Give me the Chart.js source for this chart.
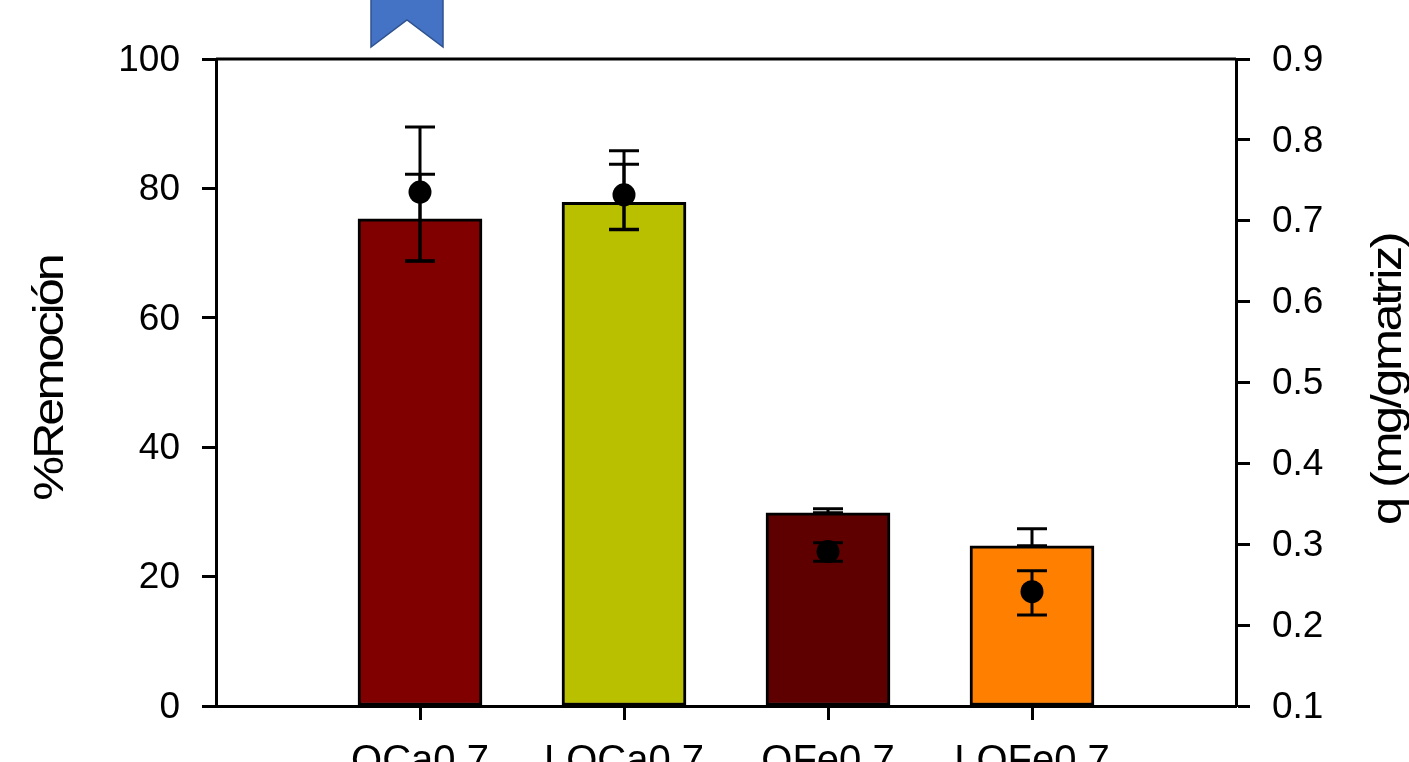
<!DOCTYPE html>
<html><head><meta charset="utf-8">
<style>html,body{margin:0;padding:0;background:#fff;overflow:hidden}canvas{display:block}</style>
<script src="https://cdn.jsdelivr.net/npm/chart.js@4/dist/chart.umd.min.js"></script>
</head><body><canvas id="c" width="1409" height="762"></canvas>
<script>
const categories = ['QCa0.7','LQCa0.7','QFe0.7','LQFe0.7'];
const barColors = ['#800000','#B8C000','#5F0000','#FF8000'];
const removal = [75.3,77.85,29.85,24.75];
const removalHigh = [82.2,85.8,30.5,27.4];
const removalLow = [68.8,73.7,29.85,24.75];
const q = [0.7355,0.732,0.291,0.2413];
const qHigh = [0.816,0.770,0.302,0.2673];
const qLow = [0.650,0.689,0.279,0.2125];
const leftTitle = '%Remoción';
const rightTitle = 'q (mg/gmatriz)';
const FONT = '"Liberation Sans", Arial, sans-serif';
const TICK = {family:FONT,size:37};
const LW = 3;

const deco = {
  id:'deco',
  beforeDraw(chart){
    const ctx = chart.ctx, a = chart.chartArea;
    // stretched, tightly spaced axis titles as in the reference; the right one reads bottom-to-top
    const patch = (id,dx,dy,sp,flip)=>{
      const s = chart.scales[id];
      if(s._patched) return;
      s._patched = true;
      const orig = s.drawTitle;
      s.drawTitle = function(){
        const lh = 42*1.2, cy = (a.top+a.bottom)/2;
        const tx = flip ? s.right - lh/2 : s.left + 26 + lh/2;
        ctx.save();
        ctx.translate(tx+dx,cy+dy);
        ctx.scale(1,1.2);
        if(flip) ctx.rotate(Math.PI);
        ctx.translate(-tx,-cy);
        ctx.letterSpacing = sp;
        orig.apply(this,arguments);
        ctx.restore();
      };
    };
    patch('y',0,-4,'-2.5px',false);
    patch('y2',6,-3,'-2px',true);
  },
  afterDatasetsDraw(chart){
    const ctx = chart.ctx, x = chart.scales.x, y = chart.scales.y, y2 = chart.scales.y2;
    ctx.save();
    ctx.strokeStyle = '#000'; ctx.lineWidth = LW; ctx.lineCap='butt';
    const whisk = (i,hi,lo,s)=>{
      const px = x.getPixelForValue(i+1), a = s.getPixelForValue(hi), b = s.getPixelForValue(lo);
      ctx.beginPath();
      ctx.moveTo(px,a); ctx.lineTo(px,b);
      ctx.moveTo(px-15,a); ctx.lineTo(px+15,a);
      ctx.moveTo(px-15,b); ctx.lineTo(px+15,b);
      ctx.stroke();
    };
    categories.forEach((c,i)=>{
      whisk(i,removalHigh[i],removalLow[i],y);
      whisk(i,qHigh[i],qLow[i],y2);
    });
    ctx.restore();
  },
  afterDraw(chart){
    const ctx = chart.ctx, a = chart.chartArea;
    ctx.save();
    ctx.strokeStyle='#000'; ctx.lineWidth=LW;
    ctx.beginPath(); ctx.moveTo(a.left,a.top); ctx.lineTo(a.right,a.top); ctx.stroke();
    // blue ribbon shape clipped by the top of the picture
    ctx.beginPath();
    ctx.moveTo(371,-2); ctx.lineTo(443,-2); ctx.lineTo(443,47); ctx.lineTo(407,20); ctx.lineTo(371,47); ctx.closePath();
    ctx.fillStyle='#4472C4'; ctx.fill();
    ctx.strokeStyle='#2F528F'; ctx.lineWidth=1.5; ctx.stroke();
    ctx.restore();
  }
};

new Chart(document.getElementById('c'),{
  data:{datasets:[
    {type:'line',label:'q',yAxisID:'y2',xAxisID:'x',order:0,showLine:false,
     data:q.map((v,i)=>({x:i+1,y:v})),pointRadius:11.5,pointHoverRadius:11.5,
     pointBackgroundColor:'#000',pointBorderColor:'#000',pointBorderWidth:0},
    {type:'bar',label:'%Remoción',yAxisID:'y',xAxisID:'x',order:1,
     data:removal.map((v,i)=>({x:i+1,y:v})),
     backgroundColor:barColors,borderColor:'#000',borderWidth:LW,borderSkipped:false,barThickness:124}
  ]},
  options:{
    responsive:false,animation:false,
    layout:{padding:{left:0,right:0,top:59,bottom:0}},
    plugins:{legend:{display:false},tooltip:{enabled:false},title:{display:false}},
    scales:{
      x:{type:'linear',min:0,max:5,position:'bottom',offset:false,
         afterBuildTicks(s){s.ticks=categories.map((c,i)=>({value:i+1}));},
         afterFit(s){s.height=56;},
         grid:{display:true,offset:false,drawOnChartArea:false,drawTicks:true,tickLength:14,tickWidth:LW,tickColor:'#000'},
         border:{display:true,color:'#000',width:LW},
         ticks:{font:{family:FONT,size:40},color:'#000',padding:18,maxRotation:0,autoSkip:false,
                callback:(v)=>categories[v-1]}},
      y:{type:'linear',min:0,max:100,position:'left',
         afterFit(s){s.width=216;},
         title:{display:true,text:leftTitle,color:'#000',font:{family:FONT,size:42},padding:{top:26,bottom:0}},
         grid:{display:true,drawOnChartArea:false,drawTicks:true,tickLength:14,tickWidth:LW,tickColor:'#000'},
         border:{display:true,color:'#000',width:LW},
         ticks:{stepSize:20,font:TICK,color:'#000',padding:22,labelOffset:1.5}},
      y2:{type:'linear',min:0.1,max:0.9,position:'right',
         afterFit(s){s.width=173;},
         title:{display:true,text:rightTitle,color:'#000',font:{family:FONT,size:42},padding:{top:0,bottom:0}},
         grid:{display:true,drawOnChartArea:false,drawTicks:true,tickLength:14,tickWidth:LW,tickColor:'#000'},
         border:{display:true,color:'#000',width:LW},
         ticks:{stepSize:0.1,font:TICK,color:'#000',padding:22,labelOffset:1.5,callback:(v)=>Number(v).toFixed(1)}}
    }
  },
  plugins:[deco]
});
</script></body></html>
